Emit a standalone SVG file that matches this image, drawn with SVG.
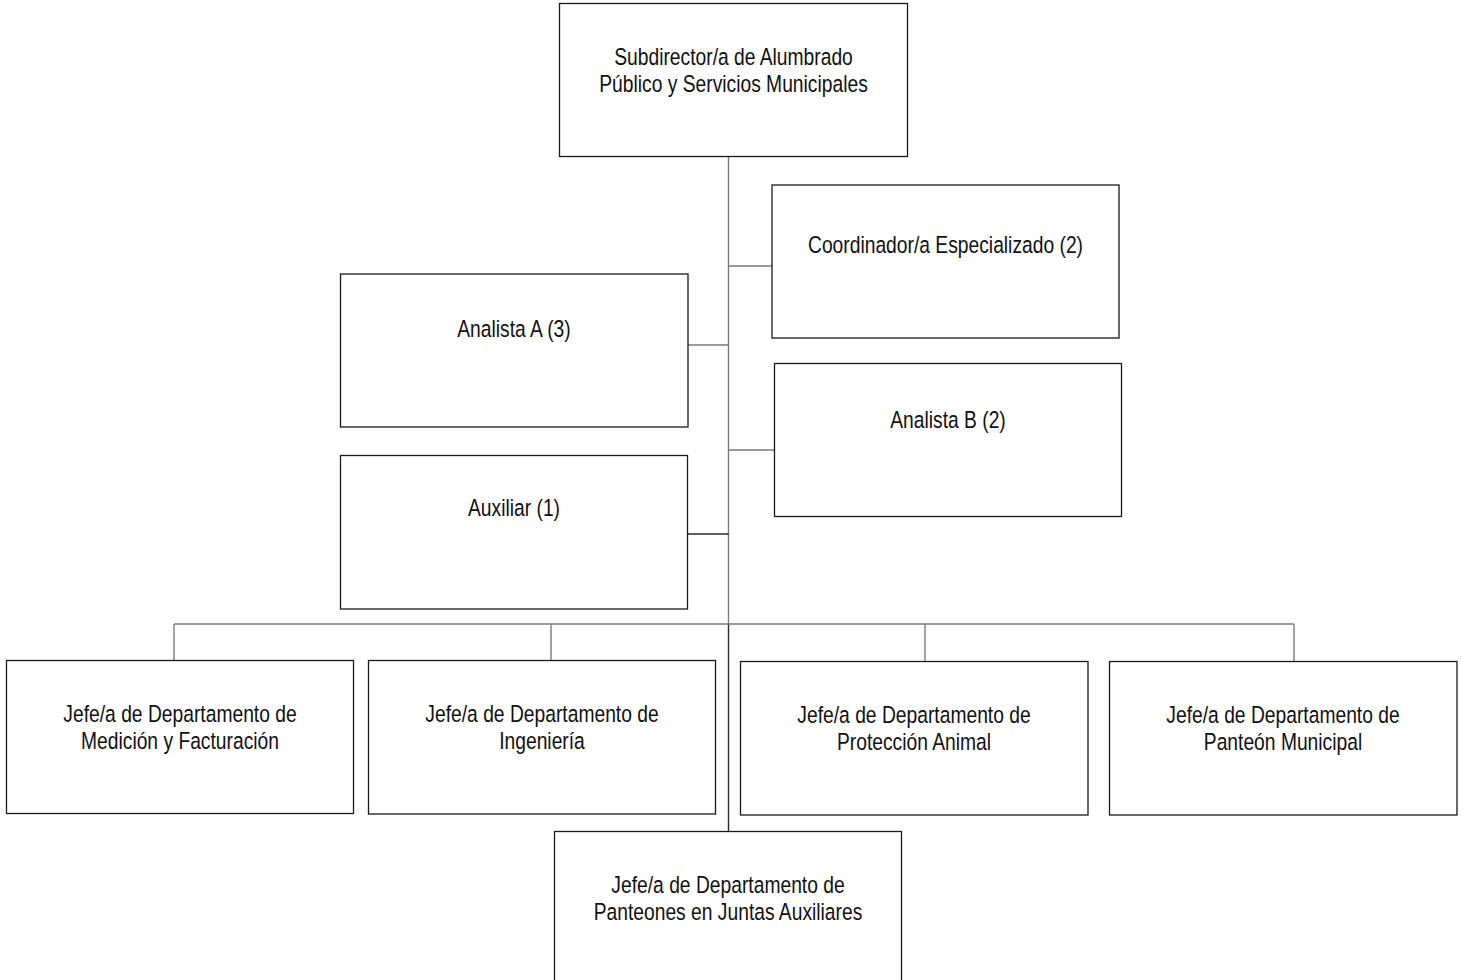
<svg xmlns="http://www.w3.org/2000/svg" width="1463" height="980" viewBox="0 0 1463 980">
  <style>
    .box { fill: #ffffff; stroke: #1a1a1a; stroke-width: 1.3; }
    .lbl { font-family: "Liberation Sans", Arial, sans-serif; font-size: 23.5px; fill: #111111; text-anchor: middle; }
    .wire { stroke: #7a7a7a; stroke-width: 1.4; fill: none; }
    .trunk { stroke: #2a2a2a; stroke-width: 1.4; fill: none; }
  </style>
  <rect width="1463" height="980" fill="#ffffff"/>

  <!-- connectors -->
  <g id="connectors">
    <line class="wire" x1="728.5" y1="157" x2="728.5" y2="624"/>
    <line class="trunk" x1="728.5" y1="624" x2="728.5" y2="831"/>
    <line class="wire" x1="728.5" y1="266" x2="772" y2="266"/>
    <line class="wire" x1="688" y1="345" x2="728.5" y2="345"/>
    <line class="wire" x1="728.5" y1="450" x2="774" y2="450"/>
    <line class="trunk" x1="688" y1="534" x2="728.5" y2="534"/>
    <line class="wire" x1="174" y1="624" x2="1294" y2="624"/>
    <line class="wire" x1="174" y1="624" x2="174" y2="660"/>
    <line class="wire" x1="551" y1="624" x2="551" y2="660"/>
    <line class="wire" x1="925" y1="624" x2="925" y2="661"/>
    <line class="wire" x1="1294" y1="624" x2="1294" y2="661"/>
  </g>

  <!-- labels use a narrowed sans: matrix(0.82 0 0 1 cx 0) centres each line on its box -->
  <g id="subdirector">
    <rect class="box" x="559.5" y="3.5" width="348" height="153"/>
    <text class="lbl" transform="matrix(0.82 0 0 1 733.5 0)" x="0" y="65">Subdirector/a de Alumbrado</text>
    <text class="lbl" transform="matrix(0.82 0 0 1 733.5 0)" x="0" y="92">Público y Servicios Municipales</text>
  </g>

  <g id="coordinador">
    <rect class="box" x="772" y="185" width="347" height="153"/>
    <text class="lbl" transform="matrix(0.82 0 0 1 945.5 0)" x="0" y="253">Coordinador/a Especializado (2)</text>
  </g>

  <g id="analista-a">
    <rect class="box" x="340.5" y="274" width="347.5" height="153"/>
    <text class="lbl" transform="matrix(0.82 0 0 1 514 0)" x="0" y="337">Analista A (3)</text>
  </g>

  <g id="analista-b">
    <rect class="box" x="774.5" y="363.5" width="347" height="153"/>
    <text class="lbl" transform="matrix(0.82 0 0 1 948 0)" x="0" y="428">Analista B (2)</text>
  </g>

  <g id="auxiliar">
    <rect class="box" x="340.5" y="455.5" width="347" height="153.5"/>
    <text class="lbl" transform="matrix(0.82 0 0 1 514 0)" x="0" y="516">Auxiliar (1)</text>
  </g>

  <g id="jefe-medicion">
    <rect class="box" x="6.5" y="660.5" width="347" height="153"/>
    <text class="lbl" transform="matrix(0.82 0 0 1 180 0)" x="0" y="722">Jefe/a de Departamento de</text>
    <text class="lbl" transform="matrix(0.82 0 0 1 180 0)" x="0" y="749">Medición y Facturación</text>
  </g>

  <g id="jefe-ingenieria">
    <rect class="box" x="368.5" y="660.5" width="347" height="153.5"/>
    <text class="lbl" transform="matrix(0.82 0 0 1 542 0)" x="0" y="722">Jefe/a de Departamento de</text>
    <text class="lbl" transform="matrix(0.82 0 0 1 542 0)" x="0" y="749">Ingeniería</text>
  </g>

  <g id="jefe-proteccion">
    <rect class="box" x="740.5" y="661.5" width="347.5" height="153.5"/>
    <text class="lbl" transform="matrix(0.82 0 0 1 914 0)" x="0" y="723">Jefe/a de Departamento de</text>
    <text class="lbl" transform="matrix(0.82 0 0 1 914 0)" x="0" y="750">Protección Animal</text>
  </g>

  <g id="jefe-panteon">
    <rect class="box" x="1109.5" y="661.5" width="347.5" height="153.5"/>
    <text class="lbl" transform="matrix(0.82 0 0 1 1283 0)" x="0" y="723">Jefe/a de Departamento de</text>
    <text class="lbl" transform="matrix(0.82 0 0 1 1283 0)" x="0" y="750">Panteón Municipal</text>
  </g>

  <g id="jefe-juntas">
    <rect class="box" x="554.5" y="831.5" width="347" height="160"/>
    <text class="lbl" transform="matrix(0.82 0 0 1 728 0)" x="0" y="893">Jefe/a de Departamento de</text>
    <text class="lbl" transform="matrix(0.82 0 0 1 728 0)" x="0" y="920">Panteones en Juntas Auxiliares</text>
  </g>
</svg>
